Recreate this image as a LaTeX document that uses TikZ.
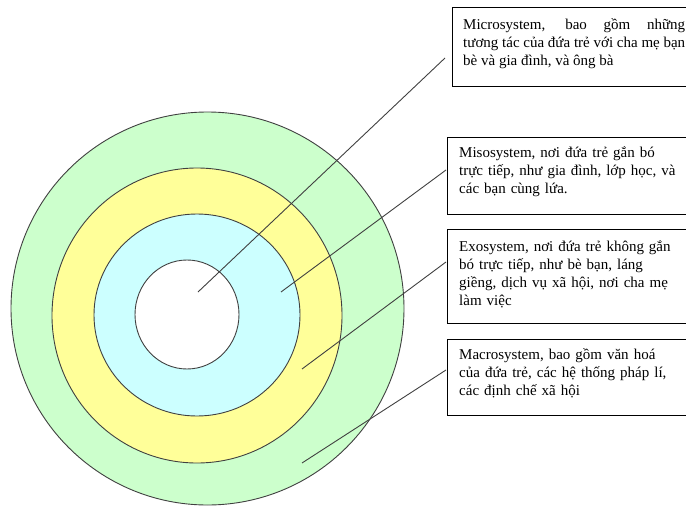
\documentclass[tikz,border=0pt]{standalone}
\usepackage{fontspec}
\setmainfont{Liberation Serif}
\usetikzlibrary{shapes.geometric}
\definecolor{macrog}{HTML}{CCFFCC}
\definecolor{exoy}{HTML}{FFFF99}
\definecolor{misoc}{HTML}{CCFFFF}
\definecolor{linegray}{HTML}{404040}
\tikzset{
  ring/.style={ellipse, draw=linegray, line width=0.9pt, inner sep=0pt},
  infobox/.style={draw=black, line width=1pt},
  infotext/.style={anchor=base west, inner sep=0pt, font=\fontsize{15}{18}\selectfont},
  leader/.style={draw=linegray, line width=0.9pt}
}
\begin{document}
\begin{tikzpicture}[x=1pt,y=-1pt]
\useasboundingbox (0,0) rectangle (686,506);
\clip (0,0) rectangle (686,506);
% rings
\node[ring, fill=macrog, minimum width=393pt, minimum height=393pt] (macro) at (207.5,308.5) {};
\node[ring, fill=exoy, minimum width=290pt, minimum height=295pt] (exo) at (197,315.5) {};
\node[ring, fill=misoc, minimum width=206pt, minimum height=202pt] (miso) at (197,315) {};
\node[ring, fill=white, minimum width=104pt, minimum height=109pt] (micro) at (187,314.5) {};
% boxes
\draw[infobox] (452,7) rectangle (692,86);
\draw[infobox] (447,137) rectangle (692,214);
\draw[infobox] (447,229) rectangle (692,323);
\draw[infobox] (447,339) rectangle (692,415);
\node[infotext, text width=222pt, align=justify] (t1) at (463,29)
  {Microsystem, bao gồm những\linebreak tương tác của đứa trẻ với cha mẹ bạn\linebreak bè và gia đình, và ông bà};
\node[infotext, text width=230pt, align=left] (t2) at (459,157)
  {Misosystem, nơi đứa trẻ gắn bó\\trực tiếp, như gia đình, lớp học, và\\các bạn cùng lứa.};
\node[infotext, text width=230pt, align=left] (t3) at (459,251)
  {Exosystem, nơi đứa trẻ không gắn\\bó trực tiếp, như bè bạn, láng\\giềng, dịch vụ xã hội, nơi cha mẹ\\làm việc};
\node[infotext, text width=230pt, align=left] (t4) at (459,359)
  {Macrosystem, bao gồm văn hoá\\của đứa trẻ, các hệ thống pháp lí,\\các định chế xã hội};
% leader lines
\coordinate (p1) at (198,292);
\coordinate (q1) at (445,58);
\coordinate (p2) at (281,292);
\coordinate (q2) at (446,170);
\coordinate (p3) at (302,369);
\coordinate (q3) at (446,262);
\coordinate (p4) at (302,463);
\coordinate (q4) at (446,370);
\draw[leader] (p1) -- (q1);
\draw[leader] (p2) -- (q2);
\draw[leader] (p3) -- (q3);
\draw[leader] (p4) -- (q4);
\end{tikzpicture}
\end{document}
